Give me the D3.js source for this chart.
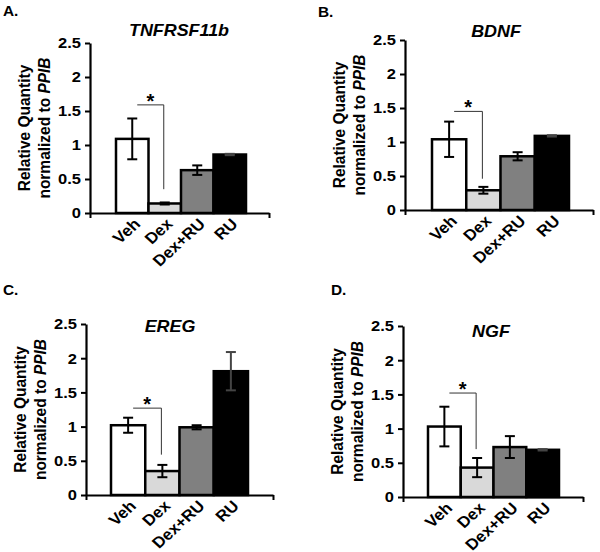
<!DOCTYPE html>
<html>
<head>
<meta charset="utf-8">
<script src="https://cdn.jsdelivr.net/npm/d3@7"></script>
<style>
  html, body { margin: 0; padding: 0; background: #fff; }
  svg { display: block; }
  text { font-family: "Liberation Sans", Arial, sans-serif; font-weight: bold; fill: #000; }
</style>
</head>
<body>
<svg id="chart" width="600" height="552"></svg>
<script>
// ---------- data ----------
const categories = ["Veh", "Dex", "Dex+RU", "RU"];
const genes = ["TNFRSF11b", "BDNF", "EREG", "NGF"];
const panelLabels = ["A.", "B.", "C.", "D."];
const yTicks = [0, 0.5, 1, 1.5, 2, 2.5];

const tnfrsf11bMean = [1.09, 0.14, 0.63, 0.86];
const tnfrsf11bErr  = [0.30, 0.015, 0.07, 0.01];
const bdnfMean = [1.04, 0.29, 0.79, 1.09];
const bdnfErr  = [0.26, 0.05, 0.06, 0.01];
const eregMean = [1.02, 0.35, 0.99, 1.81];
const eregErr  = [0.11, 0.09, 0.03, 0.28];
const ngfMean = [1.03, 0.43, 0.73, 0.69];
const ngfErr  = [0.29, 0.14, 0.16, 0.01];

// significance bracket (Veh vs Dex), in data units
const bracketTop    = [1.59, 1.45, 1.27, 1.52];
const bracketBottom = [0.35, 0.46, 0.59, 0.70];

const means = [tnfrsf11bMean, bdnfMean, eregMean, ngfMean];
const errs  = [tnfrsf11bErr, bdnfErr, eregErr, ngfErr];

// ---------- layout ----------
const SX = 1.1; // horizontal stretch of the original figure's text
const barColors = ["#ffffff", "#d9d9d9", "#808080", "#000000"];
const layouts = [
  { axisX: 90,  top: 43,  bottom: 213, xEnd: 269, b0: 116, b1: 246, labX: 3,   labY: 16,  titleX: 179, titleY: 36 },
  { axisX: 405, top: 40,  bottom: 210, xEnd: 593, b0: 432, b1: 569, labX: 318, labY: 17,  titleX: 496, titleY: 37 },
  { axisX: 86,  top: 324, bottom: 495, xEnd: 273, b0: 111, b1: 248, labX: 3,   labY: 295, titleX: 170, titleY: 332 },
  { axisX: 403, top: 326, bottom: 497, xEnd: 583, b0: 428, b1: 559, labX: 331, labY: 295, titleX: 491, titleY: 337 }
];

const svg = d3.select("#chart");

function stretchedText(parent, x, y, rot, sx) {
  return parent.append("text")
    .attr("transform", `translate(${x},${y}) scale(${sx || SX},1)` + (rot ? ` rotate(${rot})` : ""));
}

layouts.forEach((L, i) => {
  const g = svg.append("g");
  const y = d3.scaleLinear().domain([0, 2.5]).range([L.bottom, L.top]);
  const x = d3.scaleBand().domain(categories).range([L.b0, L.b1]).padding(0);
  const rows = categories.map((c, k) => ({ c, m: means[i][k], e: errs[i][k], k }));

  // panel label
  stretchedText(g, L.labX, L.labY).style("font-size", "14px").text(panelLabels[i]);

  // title
  stretchedText(g, L.titleX, L.titleY, 0, 1.12)
    .attr("text-anchor", "middle").style("font-size", "16px").style("font-style", "italic")
    .text(genes[i]);

  // y axis title (two lines)
  const midY = (L.top + L.bottom) / 2;
  stretchedText(g, L.axisX - 60, midY, -90)
    .attr("text-anchor", "middle").style("font-size", "15.5px")
    .text("Relative Quantity");
  const t2 = stretchedText(g, L.axisX - 40, midY, -90)
    .attr("text-anchor", "middle").style("font-size", "15.5px");
  t2.append("tspan").text("normalized to ");
  t2.append("tspan").style("font-style", "italic").text("PPIB");

  // bars
  g.selectAll("rect.bar").data(rows).enter().append("rect")
    .attr("class", "bar")
    .attr("x", d => x(d.c))
    .attr("width", x.bandwidth())
    .attr("y", d => y(d.m))
    .attr("height", d => y(0) - y(d.m))
    .attr("fill", d => barColors[d.k])
    .attr("stroke", "#000").attr("stroke-width", 2.5);

  // error bars
  const cap = 5;
  const cx = d => x(d.c) + x.bandwidth() / 2;
  const eb = g.selectAll("g.err").data(rows).enter().append("g").attr("class", "err");
  eb.append("line")
    .attr("x1", cx).attr("x2", cx)
    .attr("y1", d => y(d.m + d.e)).attr("y2", d => y(d.m - d.e));
  eb.append("line")
    .attr("x1", d => cx(d) - cap).attr("x2", d => cx(d) + cap)
    .attr("y1", d => y(d.m + d.e)).attr("y2", d => y(d.m + d.e));
  eb.append("line")
    .attr("x1", d => cx(d) - cap).attr("x2", d => cx(d) + cap)
    .attr("y1", d => y(d.m - d.e)).attr("y2", d => y(d.m - d.e));
  eb.selectAll("line").attr("stroke", d => d.k === 3 ? "#444" : "#000").attr("stroke-width", 2);

  // y axis
  const ya = g.append("g").attr("transform", `translate(${L.axisX},0)`)
    .call(d3.axisLeft(y).tickValues(yTicks).tickSize(5).tickSizeOuter(0)
      .tickFormat(d => String(d)));
  ya.select(".domain").attr("stroke", "#000").attr("stroke-width", 2.2);
  ya.selectAll(".tick line").attr("stroke", "#000").attr("stroke-width", 2);
  ya.selectAll(".tick text")
    .attr("x", -9 / SX)
    .attr("transform", `scale(${SX},1)`)
    .style("font-size", "15px")
    .style("font-family", "'Liberation Sans', Arial, sans-serif")
    .style("font-weight", "bold").attr("fill", "#000");

  // x axis (single category span with end ticks)
  const xs = d3.scaleLinear().domain([0, 1]).range([L.axisX, L.xEnd]);
  const xa = g.append("g").attr("transform", `translate(0,${L.bottom})`)
    .call(d3.axisBottom(xs).tickValues([0, 1]).tickSize(5).tickSizeOuter(0).tickFormat(""));
  xa.select(".domain").attr("stroke", "#000").attr("stroke-width", 2.2);
  xa.selectAll(".tick line").attr("stroke", "#000").attr("stroke-width", 2);

  // category labels rotated
  rows.forEach(d => {
    stretchedText(g, cx(d) + 9, L.bottom + 12, -45)
      .attr("text-anchor", "end").style("font-size", "15.5px").text(d.c);
  });

  // significance bracket
  const bx0 = cx(rows[0]) + 5;
  const bx1 = cx(rows[1]) - 1;
  g.append("path")
    .attr("d", `M${bx0},${y(bracketTop[i])}H${bx1}V${y(bracketBottom[i])}`)
    .attr("fill", "none").attr("stroke", "#333").attr("stroke-width", 1);
  g.append("text")
    .attr("x", (bx0 + bx1) / 2).attr("y", y(bracketTop[i]) + 3)
    .attr("text-anchor", "middle").style("font-size", "20px")
    .text("*");
});
</script>
</body>
</html>
